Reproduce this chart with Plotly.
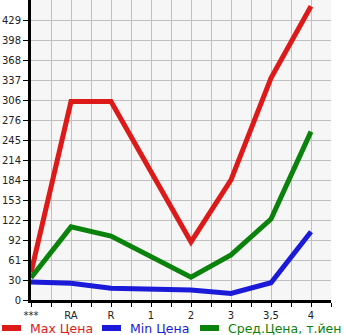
import plotly.graph_objects as go

categories = ["***", "RA", "R", "1", "2", "3", "3,5", "4"]
max_price = [42, 304, 304, 197, 89, 184, 340, 450]
min_price = [27.6, 25.5, 18, 17, 15.3, 10, 26.5, 104.6]
avg_price = [34, 112, 98, 67, 35, 69, 124, 258]
y_tick_labels = ["0", "30", "61", "92", "122", "153", "184", "214", "245", "276",
                 "306", "337", "368", "398", "429"]
y_top_label = 429
series_names = ["Max Цена", "Min Цена", "Сред.Цена, т.йен"]
series_colors = ["#dd1a1a", "#1a1ad8", "#0b820b"]

step = y_top_label / (len(y_tick_labels) - 1)
y_tick_vals = [i * step for i in range(len(y_tick_labels))]
xs = list(range(len(categories)))
y_range = [0, y_top_label * 15 / 14]

W, H = 345, 335
ML, MR, MT, MB = 31, 14, 0, 35
PW, PH = W - ML - MR, H - MT - MB


def px_x(p):
    return (p - ML) / PW


def px_y(p):
    return (H - MB - p) / PH


fig = go.Figure()
for name, vals, col in zip(series_names, [max_price, min_price, avg_price], series_colors):
    fig.add_trace(go.Scatter(
        x=xs, y=vals, mode="lines", name=name,
        line=dict(color=col, width=5),
    ))

# manual legend
legend_starts = [0, 100, 198]
for start, name, col in zip(legend_starts, series_names, series_colors):
    fig.add_shape(type="line", xref="paper", yref="paper",
                  x0=px_x(start + 2), x1=px_x(start + 21), y0=px_y(328), y1=px_y(328),
                  line=dict(color=col, width=6))
    fig.add_annotation(
        x=px_x(start + 28), xref="paper", y=px_y(328), yref="paper", text=name,
        showarrow=False, xanchor="left", yanchor="middle",
        font=dict(family="DejaVu Sans", size=12.5, color=col),
    )

fig.update_layout(
    width=W, height=H,
    margin=dict(l=ML, r=MR, t=MT, b=MB, autoexpand=False),
    paper_bgcolor="white",
    plot_bgcolor="#f6f6f6",
    font=dict(family="DejaVu Sans", size=10, color="#222"),
    showlegend=False,
    xaxis=dict(
        range=[0, 7.5], tickvals=xs, ticktext=categories,
        showgrid=True, gridcolor="#c0c0c0", gridwidth=1,
        ticks="outside", ticklen=4, tickcolor="black",
        minor=dict(dtick=0.5, tick0=0, showgrid=True, gridcolor="#c0c0c0",
                   ticks="outside", ticklen=4, tickcolor="black"),
        showline=True, linecolor="black", linewidth=3,
        zeroline=False, tickfont=dict(size=10),
    ),
    yaxis=dict(
        range=y_range, tickvals=y_tick_vals, ticktext=y_tick_labels,
        showgrid=True, gridcolor="#c0c0c0", gridwidth=1,
        ticks="outside", ticklen=5, tickcolor="black",
        showline=True, linecolor="black", linewidth=3,
        zeroline=False, tickfont=dict(size=10), automargin=False,
    ),
)

fig.write_html("out.html")
